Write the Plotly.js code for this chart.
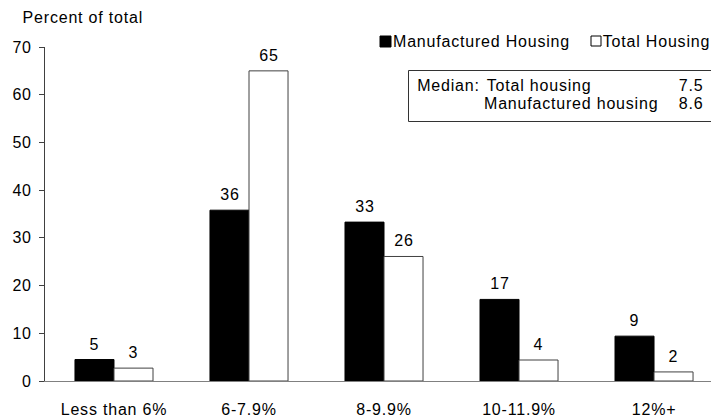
<!DOCTYPE html>
<html>
<head>
<meta charset="utf-8">
<script src="https://cdn.plot.ly/plotly-3.0.1.min.js"></script>
<style>
html,body{margin:0;padding:0;background:#fff;}
#chart text{letter-spacing:0.8px;}
</style>
</head>
<body>
<div id="chart" style="width:711px;height:419px;"></div>
<script>
// ---- data ----
const categories = ["Less than 6%", "6-7.9%", "8-9.9%", "10-11.9%", "12%+"];
const manufactured = [4.5, 35.8, 33.3, 17.1, 9.4];
const totalHousing = [2.7, 65.0, 26.1, 4.4, 1.9];
const manufacturedLabels = ["5", "36", "33", "17", "9"];
const totalLabels = ["3", "65", "26", "4", "2"];
const yTicks = [0, 10, 20, 30, 40, 50, 60, 70];
const seriesNames = ["Manufactured Housing", "Total Housing"];
const medianTotal = "7.5";
const medianManufactured = "8.6";

// ---- layout geometry ----
const W = 711, H = 419;
const M = {l: 45, r: 0, t: 47, b: 38};
const PW = W - M.l - M.r, PH = H - M.t - M.b;
const px = x => (x - M.l) / PW;
const py = y => (H - M.b - y) / PH;
const FONT = "Arial, 'Liberation Sans', sans-serif";
const fs = 16;

const traces = [
  {type: "bar", name: seriesNames[0], x: categories, y: manufactured,
   marker: {color: "#000000", line: {color: "#000000", width: 1}}, hoverinfo: "none"},
  {type: "bar", name: seriesNames[1], x: categories, y: totalHousing,
   marker: {color: "#ffffff", line: {color: "#404040", width: 1}}, hoverinfo: "none"}
];

const annotations = [];
categories.forEach((c, i) => {
  annotations.push({x: c, y: manufactured[i], xref: "x", yref: "y", text: manufacturedLabels[i],
    showarrow: false, xanchor: "center", yanchor: "bottom", xshift: -19.5, yshift: 5,
    font: {family: FONT, size: fs, color: "#000"}});
  annotations.push({x: c, y: totalHousing[i], xref: "x", yref: "y", text: totalLabels[i],
    showarrow: false, xanchor: "center", yanchor: "bottom", xshift: 19.5, yshift: 5,
    font: {family: FONT, size: fs, color: "#000"}});
});
const txt = (x, y, t, anchor) => ({x: px(x), y: py(y), xref: "paper", yref: "paper", text: t,
  showarrow: false, xanchor: anchor || "left", yanchor: "middle",
  font: {family: FONT, size: fs, color: "#000"}});
annotations.push(txt(27, 17.5, "Percent of total"));
annotations.push(txt(399, 42, seriesNames[0]));
annotations.push(txt(606, 42, seriesNames[1]));
annotations.push(txt(418, 85, "Median:"));
annotations.push(txt(490, 85, "Total housing"));
annotations.push(txt(704, 85, medianTotal, "right"));
annotations.push(txt(490, 104, "Manufactured housing"));
annotations.push(txt(704, 104, medianManufactured, "right"));

const shapes = [
  {type: "rect", xref: "paper", yref: "paper", x0: px(380), x1: px(391), y0: py(47), y1: py(36),
   fillcolor: "#000", line: {color: "#000", width: 1}},
  {type: "rect", xref: "paper", yref: "paper", x0: px(591), x1: px(601), y0: py(46), y1: py(36),
   fillcolor: "#fff", line: {color: "#000", width: 1}},
  {type: "rect", xref: "paper", yref: "paper", x0: px(408.5), x1: px(716), y0: py(121.5), y1: py(70.5),
   fillcolor: "rgba(0,0,0,0)", line: {color: "#333", width: 1}}
];

const layout = {
  width: W, height: H,
  margin: M,
  paper_bgcolor: "#fff", plot_bgcolor: "#fff",
  showlegend: false,
  barmode: "group", bargap: 0.422, bargroupgap: 0,
  font: {family: FONT, size: fs, color: "#000"},
  xaxis: {type: "category", range: [-0.511, 4.422], showline: true, linecolor: "#808080", linewidth: 1,
    ticks: "", showgrid: false, zeroline: false, ticklabelstandoff: 14,
    tickfont: {family: FONT, size: fs, color: "#000"}, fixedrange: true},
  yaxis: {range: [0, 70], tickvals: yTicks, showline: true, linecolor: "#404040", linewidth: 1,
    ticks: "outside", ticklen: 5, tickcolor: "#404040", showgrid: false, zeroline: false,
    ticklabelstandoff: 4, tickfont: {family: FONT, size: fs, color: "#000"}, fixedrange: true},
  annotations: annotations,
  shapes: shapes
};

Plotly.newPlot("chart", traces, layout, {displayModeBar: false, staticPlot: true});
</script>
</body>
</html>
